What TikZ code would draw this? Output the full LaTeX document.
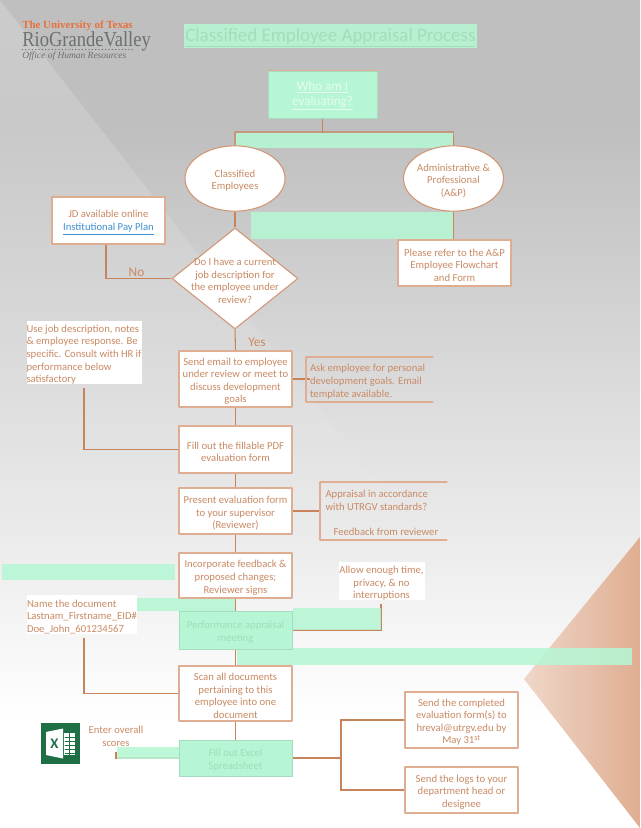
\documentclass[tikz,border=0pt]{standalone}
\usepackage{fontspec}
\setmainfont{Carlito}
\newfontfamily\logofont{Liberation Serif}
\usetikzlibrary{shapes.geometric,fadings}
\definecolor{inkbrown}{HTML}{C98A64}
\definecolor{boxline}{HTML}{DFAE92}
\definecolor{wireline}{HTML}{C9835A}
\definecolor{maskgreen}{HTML}{B6F6D4}
\definecolor{maskink}{HTML}{A3DDBA}
\definecolor{linkblue}{HTML}{3F8FD2}
\definecolor{logoorange}{HTML}{E8703A}
\definecolor{logogray}{HTML}{6A716F}
\definecolor{xlgreen}{HTML}{1F6F45}
\pgfdeclarelayer{under}
\pgfsetlayers{under,main}
\tikzset{
	body/.style={font=\fontsize{8}{9.45}\selectfont,text=inkbrown,align=flush center,inner sep=0pt,text width=#1*0.75pt,execute at begin node=\rule{0pt}{8.8pt}},
	flowbox/.style={body=110,draw=boxline,line width=1pt,fill=white,minimum height=#1*0.75pt,inner xsep=1.1pt},
	greenbox/.style={body=110,draw=maskgreen!90!black,line width=.6pt,fill=maskgreen,text=maskink,minimum height=#1*0.75pt,inner xsep=1.1pt},
	oval/.style={body=74,shape=ellipse,draw=wireline!85,line width=.8pt,fill=white,inner xsep=-2.5pt,minimum width=75pt,minimum height=49pt},
	decision/.style={shape=diamond,draw=wireline!85,line width=.8pt,fill=white,minimum width=94.5pt,minimum height=75.75pt,inner sep=0pt},
	whitenote/.style={body=#1,align=flush left,fill=white},
	bracketnote/.style={body=117,align=flush left,minimum height=#1*0.75pt},
	wire/.style={draw=wireline,line width=.8pt},
	mask/.style={fill=maskgreen,fill opacity=.88},
	answer/.style={font=\fontsize{10}{11}\selectfont,text=inkbrown,inner sep=0pt}
}
\begin{document}
\begin{tikzpicture}[x=0.75pt,y=-0.75pt,line join=round,line cap=round]
	\useasboundingbox (0,0) rectangle (640,828);
	\coordinate (busleft) at (235,132);
	\coordinate (busright) at (453,132);
	\coordinate (jdfoot) at (106,244);
	\coordinate (usefoot) at (84,388);
	\coordinate (namefoot) at (84,638);
	\coordinate (allowfoot) at (381,604);
	\coordinate (scorefoot) at (116,752);
	\coordinate (fork) at (341,758);
	% title and logo
	\node[anchor=west,inner sep=0pt,text=maskink,font=\fontsize{14.2}{16}\selectfont] (title) at (185,38) {\underline{Classified Employee Appraisal Process}};
	\node[anchor=west,inner sep=0pt,text=logoorange,font=\logofont\bfseries\fontsize{8.2}{10}\selectfont] (logoa) at (22,26) {The University of Texas};
	\node[anchor=west,inner sep=0pt,text=logogray,font=\logofont\fontsize{16}{17}\selectfont] (logob) at (22,41) {\scalebox{.868}[1]{RioGrandeValley}};
	\node[anchor=west,inner sep=0pt,text=logogray,font=\logofont\itshape\fontsize{7.1}{9}\selectfont] (logoc) at (22,56.5) {Office of Human Resources};
	\draw[logogray,dotted,line width=.5pt] (22,49.5)--(133,49.5);
	% first steps
	\node[greenbox=47,inner xsep=0pt,text width=81.75pt,text=maskgreen!35!white,font=\fontsize{9.8}{11.3}\selectfont] (who) at (322.5,94.5) {\underline{Who am I}\\ \underline{evaluating?}};
	\draw[wire,draw=boxline] (who.north west)--(who.north east);
	\node[oval] (classified) at (235,178.5) {Classified\\ Employees};
	\node[oval] (ap) at (453.5,178.5) {Administrative \&\\ Professional\\ (A\&P)};
	\node[decision] (current) at (235,278.5) {};
	\node[body=110] (currenttext) at (current) {Do I have a current\\ job description for\\ the employee under\\ review?};
	\node[flowbox=47] (jd) at (108.5,220.5) {JD available online\\ \textcolor{linkblue}{\underline{Institutional Pay Plan}}};
	\node[flowbox=46] (refer) at (454.5,263) {Please refer to the A\&P\\ Employee Flowchart\\ and Form};
	\node[answer] (no) at (136.5,272) {No};
	\node[answer] (yes) at (257,342) {Yes};
	% main column
	\node[flowbox=56] (send) at (235.5,379) {Send email to employee\\ under review or meet to\\ discuss development\\ goals};
	\node[flowbox=47] (fill) at (235.5,449.5) {Fill out the fillable PDF\\ evaluation form};
	\node[flowbox=46] (present) at (235.5,511) {Present evaluation form\\ to your supervisor\\ (Reviewer)};
	\node[flowbox=45] (incorporate) at (235.5,575.5) {Incorporate feedback \&\\ proposed changes;\\ Reviewer signs};
	\node[greenbox=38] (meeting) at (235.5,630) {Performance appraisal\\ meeting};
	\node[flowbox=55] (scan) at (235.5,693.5) {Scan all documents\\ pertaining to this\\ employee into one\\ document};
	\node[greenbox=36] (excel) at (235.5,758) {Fill out Excel\\ Spreadsheet};
	\node[flowbox=56] (done) at (461.5,720) {Send the completed\\ evaluation form(s) to\\ hreval@utrgv.edu by\\ May 31\textsuperscript{st}};
	\node[flowbox=46] (logs) at (461.5,790) {Send the logs to your\\ department head or\\ designee};
	% side notes
	\node[whitenote=115] (usejob) at (84,352.5) {Use job description, notes\\ \& employee response. Be\\ specific. Consult with HR if\\ performance below\\ satisfactory};
	\node[whitenote=110] (name) at (82,614.5) {Name the document\\ Lastnam\_Firstname\_EID\#\\ Doe\_John\_601234567};
	\node[body=86,fill=white,minimum height=28.5pt] (allow) at (381.5,581) {Allow enough time,\\ privacy, \& no\\ interruptions};
	\node[body=70] (scores) at (116,734) {Enter overall\\ scores};
	\node[bracketnote=45] (ask) at (368.5,379.5) {Ask employee for personal\\ development goals. Email\\ template available.};
	\node[bracketnote=58] (appraisal) at (384,511) {Appraisal in accordance\\ with UTRGV standards?\\ ~\\ \hspace*{6pt}Feedback from reviewer};
	\draw[wire,draw=boxline] (306,357)--(433,357) (306,357)--(306,402)--(433,402);
	\draw[wire,draw=boxline] (320,482)--(447,482) (320,482)--(320,540)--(447,540);
	% excel icon
	\fill[xlgreen] (41,723) rectangle (80,764);
	\fill[white] (46,732)--(63,728.5)--(63,758.5)--(46,755)--cycle;
	\fill[white] (64,733) rectangle (75,755);
	\foreach \y in {737,741,745,749,753} \draw[xlgreen,line width=.4pt] (65,\y)--(75,\y);
	\draw[xlgreen,line width=.4pt] (69,733)--(69,755);
	\node[inner sep=0pt,text=xlgreen,font=\bfseries\fontsize{11}{12}\selectfont] (xletter) at (54.5,743.5) {X};
	\begin{pgfonlayer}{under}
		\shade[top color=black!25,bottom color=black!25] (0,0) rectangle (640,130);
		\shade[top color=black!25,bottom color=white] (0,130) rectangle (640,720);
		\fill[white,fill opacity=.2,path fading=south] (0,0)--(500,640)--(0,640)--cycle;
		\shade[left color=boxline!50,right color=boxline] (524,679)--(640,537)--(640,828)--cycle;
		% connectors
		\draw[wire] (who.south)--(who.south |- busleft);
		\draw[wire] (classified.north)--(busleft)--(busright)--(ap.north);
		\draw[wire] (classified.south)--(current.north);
		\draw[wire] (ap.south)--(ap.south |- refer.north);
		\draw[wire] (jdfoot) |- (current.west);
		\draw[wire] (current.south)--(send.north);
		\draw[wire] (send.east)--(send.east -| ask.west);
		\draw[wire] (send.south)--(fill.north);
		\draw[wire] (usefoot) |- (fill.west);
		\draw[wire] (fill.south)--(present.north);
		\draw[wire] (present.east)--(320,511);
		\draw[wire] (present.south)--(incorporate.north);
		\draw[wire] (incorporate.south)--(meeting.north);
		\draw[wire] (allowfoot) |- (meeting.east);
		\draw[wire] (meeting.south)--(scan.north);
		\draw[wire] (namefoot) |- (scan.west);
		\draw[wire] (scan.south)--(excel.north);
		\draw[wire] (scorefoot) |- (excel.west);
		\draw[wire] (excel.east)--(fork);
		\draw[wire] (fork) |- (done.west);
		\draw[wire] (fork) |- (logs.west);
		% green patches
		\foreach \xa/\ya/\xb/\yb in {184/24/477/48,235.5/133/452.5/148,251/212/453/239,2/564/175/580,137/598/235/611,293/608/380.5/630,237/648/632/665,117/747/179/759}
			\fill[mask] (\xa,\ya) rectangle (\xb,\yb);
	\end{pgfonlayer}
\end{tikzpicture}
\end{document}
